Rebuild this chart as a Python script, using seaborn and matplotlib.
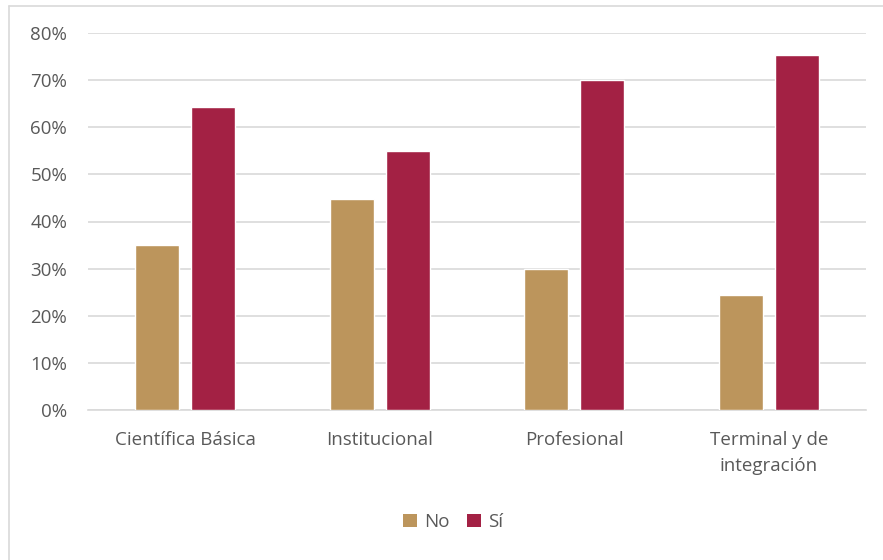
import pandas as pd
import seaborn as sns
import matplotlib.pyplot as plt
from matplotlib.lines import Line2D
from matplotlib.ticker import PercentFormatter


OUTPUT_PATH = "out.png"

CATEGORIES = ["Científica Básica", "Institucional", "Profesional", "Terminal y de\nintegración"]
NO_VALUES = [35.1, 44.8, 30.0, 24.5]
SI_VALUES = [64.3, 54.9, 70.0, 75.3]
SERIES = ["No", "Sí"]
COLORS = ["#BC955C", "#A32144"]
TEXT_COLOR = "#595959"
GRID_COLOR = "#D9D9D9"
FONT_SIZE = 13.5


def main() -> None:
    df = pd.DataFrame({
        "Categoria": CATEGORIES * 2,
        "Respuesta": [SERIES[0]] * len(CATEGORIES) + [SERIES[1]] * len(CATEGORIES),
        "Porcentaje": NO_VALUES + SI_VALUES,
    })

    sns.set_theme(style="white")
    plt.rcParams["font.family"] = ["Open Sans", "DejaVu Sans"]

    fig = plt.figure(figsize=(8.83, 5.6), dpi=100)
    ax = fig.add_axes([88 / 883, 1 - 410 / 560, (866 - 88) / 883, (410 - 33) / 560])

    sns.barplot(
        data=df,
        x="Categoria",
        y="Porcentaje",
        hue="Respuesta",
        palette=COLORS,
        saturation=1,
        width=0.577,
        gap=0.21,
        ax=ax,
        legend=False,
        zorder=3,
    )

    ax.set_ylim(0, 80)
    ax.set_yticks(range(0, 81, 10))
    ax.yaxis.set_major_formatter(PercentFormatter(decimals=0))
    ax.grid(axis="y", color=GRID_COLOR, linewidth=1.2, zorder=0)
    ax.set_axisbelow(True)
    for side in ["top", "right", "left"]:
        ax.spines[side].set_visible(False)
    ax.spines["bottom"].set_color(GRID_COLOR)
    ax.spines["bottom"].set_linewidth(1.2)
    ax.tick_params(axis="both", length=0, colors=TEXT_COLOR, labelsize=FONT_SIZE)
    ax.tick_params(axis="y", pad=15)
    ax.tick_params(axis="x", pad=15)
    for label in ax.get_xticklabels():
        label.set_linespacing(1.6)
    ax.set_xlabel("")
    ax.set_ylabel("")

    handles = [
        plt.Rectangle((0, 0), 1, 1, facecolor=c, edgecolor="none") for c in COLORS
    ]
    fig.legend(
        handles, SERIES,
        loc="center", bbox_to_anchor=(0.513, 1 - 522 / 560),
        ncol=2, frameon=False, fontsize=FONT_SIZE, labelcolor=TEXT_COLOR,
        handlelength=0.75, handleheight=0.75, handletextpad=0.4, columnspacing=0.9,
    )

    # chart-area border (only top and left edges visible in the crop)
    fig.add_artist(Line2D([9 / 883, 1], [1 - 6 / 560, 1 - 6 / 560],
                          transform=fig.transFigure, color=GRID_COLOR, linewidth=1.2))
    fig.add_artist(Line2D([9 / 883, 9 / 883], [0, 1 - 6 / 560],
                          transform=fig.transFigure, color=GRID_COLOR, linewidth=1.2))

    fig.savefig(OUTPUT_PATH, dpi=100)
    plt.close(fig)


if __name__ == "__main__":
    main()
